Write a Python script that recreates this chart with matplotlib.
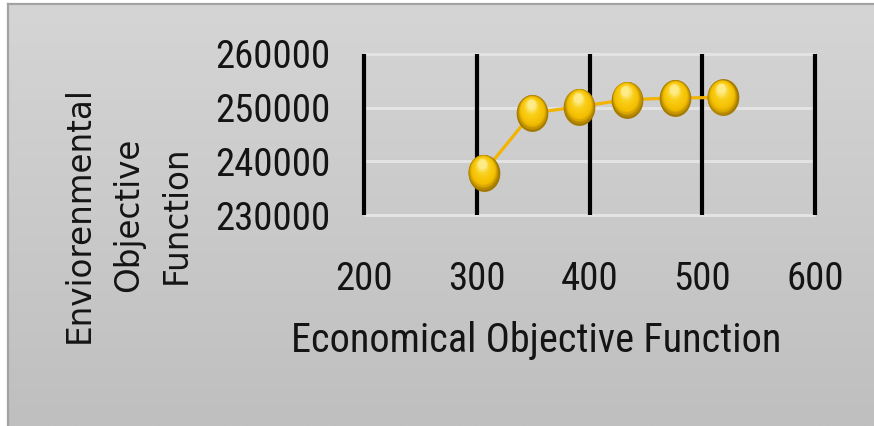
import numpy as np
import matplotlib
matplotlib.use("Agg")
import matplotlib.pyplot as plt
from matplotlib.path import Path
from matplotlib.markers import MarkerStyle
from matplotlib.colors import to_rgb
from matplotlib import transforms

# Pareto front: economical vs environmental objective
econ = [306, 349, 391, 433, 476, 518]
envir = [237900, 249000, 250200, 251500, 251800, 251900]

x_ticks = [200, 300, 400, 500, 600]
y_ticks = [230000, 240000, 250000, 260000]

x_label = "Economical Objective Function"
y_label = "Enviorenmental\nObjective\nFunction"

W, H, DPI = 874, 426, 100
fig = plt.figure(figsize=(W / DPI, H / DPI), dpi=DPI, facecolor="white")

# chart area background: soft vertical gray gradient with a thin border
bg = fig.add_axes([8 / W, 0, 1 - 8 / W, 1 - 4 / H], zorder=-5)
grad = np.linspace(0, 1, 256)[:, None]
top, bot = np.array(to_rgb("#d5d5d5")), np.array(to_rgb("#bfbfbf"))
img = top[None, None, :] * (1 - grad[..., None]) + bot[None, None, :] * grad[..., None]
bg.imshow(img, aspect="auto", extent=[0, 1, 0, 1], origin="upper")
bg.set_xlim(0, 1)
bg.set_ylim(0, 1)
bg.set_xticks([])
bg.set_yticks([])
for side in ("right", "bottom"):
    bg.spines[side].set_visible(False)
for side in ("left", "top"):
    bg.spines[side].set_color("#a3a3a3")
    bg.spines[side].set_linewidth(1.6)

ax = fig.add_axes([364 / W, 1 - 215 / H, (815 - 364) / W, (215 - 54) / H])
ax.set_facecolor("none")
ax.set_xlim(x_ticks[0], x_ticks[-1])
ax.set_ylim(y_ticks[0], y_ticks[-1])
for s in ax.spines.values():
    s.set_visible(False)

# light horizontal gridlines, heavy black vertical gridlines
ax.hlines(y_ticks, x_ticks[0], x_ticks[-1], colors="#e3e3e3", linewidth=2.2,
          clip_on=False, zorder=1)
ax.vlines(x_ticks, y_ticks[0], y_ticks[-1], colors="black", linewidth=3.0,
          clip_on=False, zorder=2)

narrow = ["Roboto Condensed", "DejaVu Sans"]
ax.set_xticks(x_ticks)
ax.set_yticks(y_ticks)
ax.set_xticklabels([str(v) for v in x_ticks], family=narrow, fontsize=28, color="#141414")
ax.set_yticklabels([str(v) for v in y_ticks], family=narrow, fontsize=28, color="#141414")
ax.tick_params(axis="both", length=0)
ax.tick_params(axis="y", pad=24)
ax.tick_params(axis="x", pad=33)

ax.set_xlabel(x_label, family=narrow, fontsize=29, color="#141414")
ax.xaxis.set_label_coords(0.3825, -0.78)
ax.xaxis.label.set_va("center")

ax.set_ylabel(y_label, family="DejaVu Sans", fontsize=23.5,
              color="#141414", linespacing=1.6, multialignment="center")
ax.yaxis.set_label_coords(-0.523, 0.0)
ax.yaxis.label.set_va("center")

# connecting line
ax.plot(econ, envir, color="#f2b400", linewidth=2.3, zorder=3, clip_on=False)

# glossy gold markers: stacked ellipses shading from dark rim to bright highlight
theta = np.linspace(0, 2 * np.pi, 64)
ell = Path(np.column_stack([0.86 * np.cos(theta), np.sin(theta)]), closed=True)
marker = MarkerStyle(ell)

c_rim = np.array(to_rgb("#a27800"))
c_mid = np.array(to_rgb("#f4be00"))
c_lt = np.array(to_rgb("#f9cf18"))
c_hi = np.array(to_rgb("#fdeb88"))
n = 16
base = 26.5
for i in range(n):
    t = i / (n - 1)
    if t < 0.3:
        col = c_rim + (c_mid - c_rim) * (t / 0.3)
    elif t < 0.7:
        col = c_mid + (c_lt - c_mid) * ((t - 0.3) / 0.4)
    else:
        col = c_lt + (c_hi - c_lt) * ((t - 0.7) / 0.3)
    size = base * (1 - 0.75 * t)
    off = transforms.ScaledTranslation(-1.0 * t / 72, 6.5 * t / 72, fig.dpi_scale_trans)
    ax.plot(econ, envir, linestyle="none", marker=marker, markersize=size,
            markerfacecolor=tuple(col), markeredgewidth=0, zorder=4 + i * 0.01,
            clip_on=False, transform=ax.transData + off)

fig.savefig("out.png", dpi=DPI, facecolor=fig.get_facecolor())
